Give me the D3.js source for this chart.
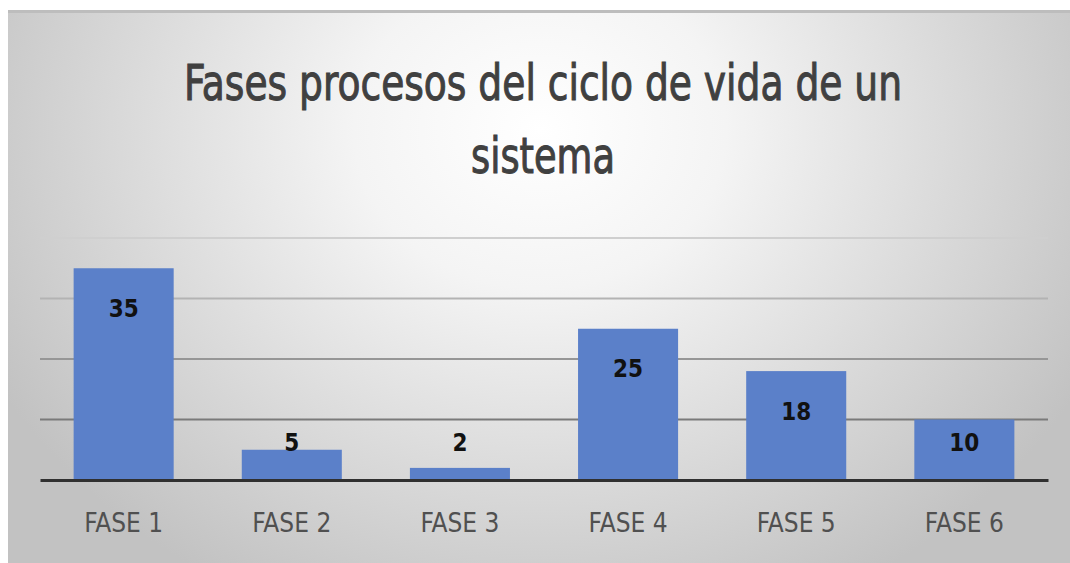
<!DOCTYPE html>
<html>
<head>
<meta charset="utf-8">
<script src="https://cdn.jsdelivr.net/npm/d3@7"></script>
<style>
  body { margin: 0; background: #fff; }
  svg { display: block; }
</style>
</head>
<body>
<svg id="chart" width="1070" height="563"></svg>
<script>
var fases = ["FASE 1", "FASE 2", "FASE 3", "FASE 4", "FASE 5", "FASE 6"];
var valores = [35, 5, 2, 25, 18, 10];
var ticks = [10, 20, 30, 40];
var tituloLineas = ["Fases procesos del ciclo de vida de un", "sistema"];

var svg = d3.select("#chart"),
	margin = {top: 238, right: 22, bottom: 83, left: 40},
	width = +svg.attr("width") - margin.left - margin.right,
	height = +svg.attr("height") - margin.top - margin.bottom;

var fontNarrow = "'DejaVu Sans Condensed', 'Liberation Sans Narrow', sans-serif";

// fondo con degradado
var defs = svg.append("defs");
var grad = defs.append("radialGradient")
	.attr("id", "fondo")
	.attr("gradientUnits", "userSpaceOnUse")
	.attr("cx", 540).attr("cy", 130)
	.attr("r", 620)
	.attr("gradientTransform", "translate(540,130) scale(1,0.85) translate(-540,-130)");
grad.append("stop").attr("offset", "0%").attr("stop-color", "#ffffff");
grad.append("stop").attr("offset", "30%").attr("stop-color", "#f4f4f4");
grad.append("stop").attr("offset", "100%").attr("stop-color", "#c2c2c2");

svg.append("rect")
	.attr("x", 8).attr("y", 10)
	.attr("width", 1062).attr("height", 553)
	.attr("fill", "url(#fondo)");

svg.append("rect")
	.attr("x", 8).attr("y", 10)
	.attr("width", 1062).attr("height", 3)
	.attr("fill", "#bdbdbd");

// titulo
svg.selectAll("text.titulo")
	.data(tituloLineas)
	.enter()
	.append("text")
	.attr("class", "titulo")
	.attr("x", 543)
	.attr("y", (d, i) => 100 + i * 73)
	.attr("text-anchor", "middle")
	.attr("font-family", fontNarrow)
	.attr("font-size", "50px")
	.attr("fill", "#404040")
	.attr("stroke", "#404040")
	.attr("stroke-width", 1)
	.attr("textLength", (d, i) => i == 0 ? 718 : 144)
	.attr("lengthAdjust", "spacingAndGlyphs")
	.text(d => d);

var g = svg.append("g")
	.attr("transform", "translate(" + margin.left + "," + margin.top + ")");

var x = d3.scaleBand()
	.domain(fases)
	.range([0, width])
	.paddingInner(0.405)
	.paddingOuter(0.2);

var y = d3.scaleLinear()
	.domain([0, 40])
	.range([height, 0]);

// lineas de cuadricula (mas claras hacia arriba)
var gridColor = d3.scaleLinear().domain([10, 40]).range(["#7a7a7a", "#cfcfcf"]);
g.selectAll("line.grid")
	.data(ticks)
	.enter()
	.append("line")
	.attr("class", "grid")
	.attr("x1", 0)
	.attr("x2", width)
	.attr("y1", d => y(d))
	.attr("y2", d => y(d))
	.attr("stroke", d => gridColor(d))
	.attr("stroke-width", 2);

g.selectAll("rect.bar")
	.data(valores)
	.enter()
	.append("rect")
	.attr("class", "bar")
	.attr("x", (d, i) => x(fases[i]))
	.attr("y", d => y(d))
	.attr("width", x.bandwidth())
	.attr("height", d => height - y(d))
	.attr("fill", "#5b80c9");

// eje inferior
var xAxis = g.append("g")
	.attr("transform", "translate(0," + height + ")")
	.call(d3.axisBottom(x).tickSize(0).tickPadding(33));

xAxis.select(".domain")
	.attr("stroke", "#303030")
	.attr("stroke-width", 3);

xAxis.selectAll("text")
	.attr("font-family", fontNarrow)
	.attr("font-size", "27px")
	.attr("fill", "#505050")
	.attr("textLength", 79)
	.attr("lengthAdjust", "spacingAndGlyphs");

// etiquetas de valores
g.selectAll("text.valor")
	.data(valores)
	.enter()
	.append("text")
	.attr("class", "valor")
	.attr("x", (d, i) => x(fases[i]) + x.bandwidth() / 2)
	.attr("y", d => Math.min(y(d) + 40, y(6.2)))
	.attr("dy", "0.35em")
	.attr("text-anchor", "middle")
	.attr("font-family", fontNarrow)
	.attr("font-weight", "bold")
	.attr("font-size", "24px")
	.attr("fill", "#111")
	.text(d => d);
</script>
</body>
</html>
